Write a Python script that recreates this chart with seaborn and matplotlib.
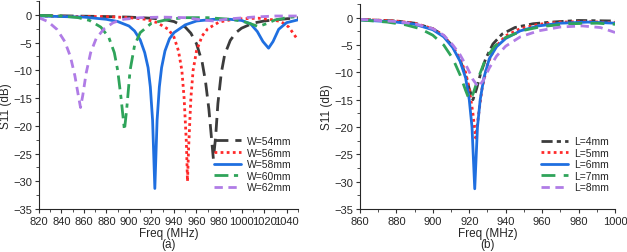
import numpy as np
import pandas as pd
import matplotlib
matplotlib.use("Agg")
import matplotlib.pyplot as plt
import seaborn as sns
from matplotlib.ticker import AutoMinorLocator, MultipleLocator

# ------------------------------------------
# DATA  (a) width sweep
# ------------------------------------------
w54_f = [820, 850, 880, 900, 920, 930, 940, 950, 955, 960, 965, 968, 971, 973, 975, 977, 979, 982, 985, 990, 995, 1000, 1010, 1020, 1030, 1040, 1050]
w54_s = [-0.1, -0.2, -0.3, -0.4, -0.6, -0.8, -1.2, -2.2, -3.3, -5.2, -8.5, -12, -17, -21.5, -26, -22, -16, -10.5, -7.2, -4.6, -3.2, -2.4, -1.5, -1.1, -0.9, -0.7, -0.5]

w56_f = [820, 860, 880, 900, 915, 925, 935, 940, 944, 947, 949, 951, 952, 953, 955, 957, 960, 965, 970, 980, 990, 1000, 1015, 1025, 1035, 1042, 1050]
w56_s = [-0.2, -0.3, -0.3, -0.5, -0.8, -1.4, -2.6, -4, -6.5, -10, -15, -23, -30, -24, -15, -10, -6.5, -3.8, -2.5, -1.3, -0.9, -0.7, -0.6, -0.8, -1.2, -2.2, -4.5]

w58_f = [820, 840, 860, 880, 890, 900, 905, 910, 914, 917, 919, 921, 923, 925, 927, 929, 932, 936, 940, 950, 960, 975, 990, 1000, 1008, 1014, 1019, 1024, 1028, 1033, 1040, 1050]
w58_s = [-0.2, -0.3, -0.4, -0.8, -1.2, -2.0, -2.9, -4.5, -6.8, -9.5, -13, -19, -31.3, -19, -13, -9.5, -6.5, -4.3, -3.2, -1.8, -1.1, -0.8, -0.8, -1.0, -1.6, -3.0, -4.8, -6.0, -4.8, -2.6, -1.4, -0.9]

w60_f = [820, 840, 855, 865, 875, 882, 887, 890, 893, 896, 898, 901, 905, 910, 920, 935, 950, 970, 990, 1000, 1008, 1015, 1022, 1030, 1040, 1050]
w60_s = [-0.1, -0.2, -0.5, -1.0, -2.2, -4.0, -6.8, -10, -15, -20.8, -17, -10, -5.5, -3.2, -1.5, -0.8, -0.5, -0.5, -0.8, -1.1, -1.6, -2.1, -1.6, -0.9, -0.5, -0.3]

w62_f = [820, 828, 836, 843, 848, 852, 855, 857, 859, 862, 866, 871, 878, 886, 895, 910, 930, 950, 965, 975, 990, 1010, 1030, 1050]
w62_s = [-0.5, -1.2, -2.6, -4.8, -7.5, -11, -14.5, -16.7, -14.5, -10.5, -6.8, -4.2, -2.5, -1.4, -0.8, -0.5, -0.4, -0.5, -0.9, -1.1, -0.7, -0.4, -0.2, -0.2]

# ------------------------------------------
# DATA  (b) length sweep
# ------------------------------------------
l4_f = [860, 880, 890, 900, 906, 911, 915, 918, 920, 922, 924, 926, 929, 933, 938, 945, 955, 965, 980, 1000]
l4_s = [-0.3, -0.6, -1.0, -2.0, -3.3, -5.3, -7.8, -10.5, -13, -15, -13, -10.5, -7.5, -4.8, -3.0, -1.8, -1.1, -0.8, -0.5, -0.6]

l5_f = [860, 880, 890, 900, 906, 911, 915, 918, 920, 922, 923.5, 925, 927, 930, 934, 940, 948, 958, 970, 985, 1000]
l5_s = [-0.3, -0.6, -1.0, -2.0, -3.3, -5.3, -7.6, -10, -13, -17.5, -22, -18, -13, -8.5, -5.5, -3.3, -2.0, -1.2, -0.8, -0.7, -0.9]

l6_f = [860, 880, 890, 900, 906, 911, 915, 918, 920, 921.5, 923, 924.5, 926, 928, 931, 935, 940, 948, 958, 970, 985, 1000]
l6_s = [-0.4, -0.8, -1.2, -2.2, -3.5, -5.5, -8.0, -11, -15, -20, -31.3, -20, -15, -11, -7.5, -5.3, -3.8, -2.4, -1.5, -1.0, -0.8, -1.0]

l7_f = [860, 875, 885, 893, 900, 906, 911, 915, 918, 920, 922, 925, 929, 934, 940, 950, 960, 975, 990, 1000]
l7_s = [-0.4, -0.8, -1.3, -2.0, -3.2, -5.0, -7.5, -10.5, -13.3, -15, -14, -11, -7.5, -5.2, -3.6, -2.3, -1.6, -1.1, -1.0, -1.2]

l8_f = [860, 880, 890, 900, 906, 911, 915, 919, 922, 925, 928, 931, 935, 940, 948, 958, 970, 982, 992, 1000]
l8_s = [-0.3, -0.7, -1.1, -2.0, -3.2, -5.0, -6.8, -9.2, -11.3, -12.7, -11.3, -9.2, -7.0, -5.2, -3.5, -2.4, -1.7, -1.5, -1.8, -2.7]

# ------------------------------------------
# STYLES
# ------------------------------------------
C_GRAY = "#3c3c3c"
C_RED = "#ff2a2a"
C_BLUE = "#1f6fe0"
C_GREEN = "#2fa45a"
C_PURPLE = "#b07ce6"

panel_a = [
    ("W=54mm", w54_f, w54_s, C_GRAY, (0, (5, 2.5))),
    ("W=56mm", w56_f, w56_s, C_RED, (0, (1, 1.2))),
    ("W=58mm", w58_f, w58_s, C_BLUE, "-"),
    ("W=60mm", w60_f, w60_s, C_GREEN, (0, (5, 2, 1.5, 2))),
    ("W=62mm", w62_f, w62_s, C_PURPLE, (0, (3, 2))),
]
panel_b = [
    ("L=4mm", l4_f, l4_s, C_GRAY, (0, (4, 1.5, 1.5, 1.5))),
    ("L=5mm", l5_f, l5_s, C_RED, (0, (1, 1.2))),
    ("L=6mm", l6_f, l6_s, C_BLUE, "-"),
    ("L=7mm", l7_f, l7_s, C_GREEN, (0, (5, 3))),
    ("L=8mm", l8_f, l8_s, C_PURPLE, (0, (3, 2))),
]

sns.set_style("ticks")
plt.rcParams["font.family"] = ["Liberation Sans", "DejaVu Sans"]


def draw_panel(ax, series, xlim, xstep, tag):
    for name, f, s, col, ls in series:
        df = pd.DataFrame({"Freq": f, "S11": s})
        sns.lineplot(data=df, x="Freq", y="S11", ax=ax, color=col,
                     linestyle=ls, linewidth=2.0, label=name)
    ax.set_xlim(*xlim)
    ax.set_ylim(-35, 2.5)
    ax.xaxis.set_major_locator(MultipleLocator(xstep))
    ax.yaxis.set_major_locator(MultipleLocator(5))
    ax.xaxis.set_minor_locator(AutoMinorLocator(2))
    ax.yaxis.set_minor_locator(AutoMinorLocator(2))
    ax.tick_params(which="major", direction="out", length=3, width=0.8,
                   labelsize=8, pad=2, color="#333333")
    ax.tick_params(which="minor", direction="out", length=2, width=0.6, color="#333333")
    ax.set_xlabel("Freq (MHz)", fontsize=8.5, labelpad=1)
    ax.set_ylabel("S11 (dB)", fontsize=8.5, labelpad=1)
    ax.text(0.5, -0.17, "(" + tag + ")", transform=ax.transAxes,
            ha="center", va="center", fontsize=8.5)
    sns.despine(ax=ax)
    ax.legend(loc="lower right", bbox_to_anchor=(1.0, 0.05), frameon=False,
              fontsize=7.5, handlelength=2.6, handletextpad=0.6,
              labelspacing=0.15, borderaxespad=0.2)


fig = plt.figure(figsize=(6.27, 2.53), dpi=100)
ax_a = fig.add_axes([0.062, 0.17, 0.413, 0.822])
ax_b = fig.add_axes([0.574, 0.17, 0.407, 0.81])

draw_panel(ax_a, panel_a, (820, 1050), 20, "a")
draw_panel(ax_b, panel_b, (860, 1000), 20, "b")

fig.savefig("out.png", dpi=100)
